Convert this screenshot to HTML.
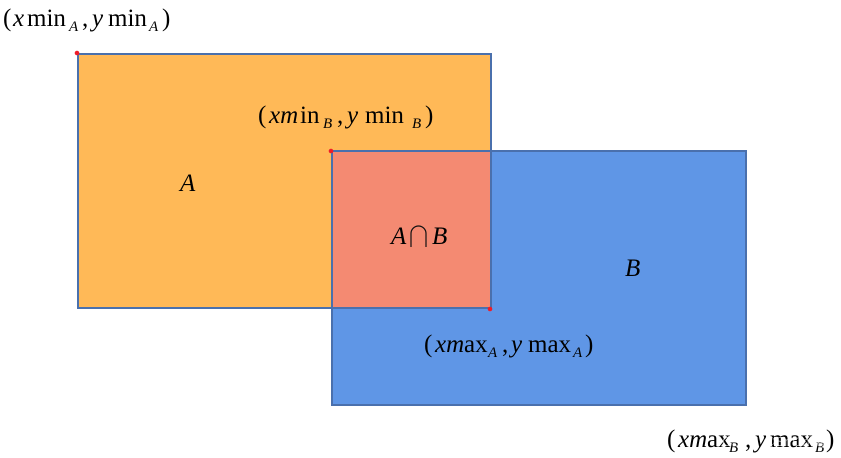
<!DOCTYPE html>
<html><head><meta charset="utf-8"><style>
html,body{margin:0;padding:0;background:#fff;width:841px;height:458px;overflow:hidden}
svg{display:block}
text{font-family:"Liberation Serif",serif;font-size:25px;fill:#000}
.i{font-style:italic}
.s{font-style:italic;font-size:15px}
</style></head><body>
<svg width="841" height="458" viewBox="0 0 841 458" xmlns="http://www.w3.org/2000/svg">
<rect x="78" y="54" width="413" height="254" fill="#ffb957" stroke="#4a70ad" stroke-width="2"/>
<rect x="332" y="151" width="414" height="254" fill="#5f96e6" stroke="#4a70ad" stroke-width="2"/>
<rect x="332" y="151" width="159" height="157" fill="#f48a72" stroke="#4a70ad" stroke-width="2"/>
<circle cx="77" cy="53" r="2.3" fill="#f01c28"/>
<circle cx="331" cy="151" r="2.3" fill="#f01c28"/>
<circle cx="490" cy="309" r="2.3" fill="#f01c28"/>

<text x="3" y="26">(</text><text x="13" y="26" class="i">x</text><text x="27" y="26">min</text><text x="69" y="31" class="s">A</text><text x="82" y="26">,</text><text x="92" y="26" class="i">y</text><text x="108" y="26">min</text><text x="149" y="31" class="s">A</text><text x="162" y="26">)</text>

<text x="258" y="123">(</text><text x="269" y="123" class="i">xm</text><text x="300" y="123">in</text><text x="323" y="128" class="s">B</text><text x="337" y="123">,</text><text x="347" y="123" class="i">y</text><text x="365" y="123">min</text><text x="412" y="128" class="s">B</text><text x="425" y="123">)</text>

<text x="180" y="191" class="i">A</text>
<text x="625" y="276" class="i">B</text>

<text x="391" y="244" class="i">A</text>
<path d="M411 247V233.5a7.5 7.5 0 0 1 15 0V247" fill="none" stroke="#111" stroke-width="1.2"/>
<text x="432" y="244" class="i">B</text>

<text x="424" y="352">(</text><text x="435" y="352" class="i">xm</text><text x="464" y="352">ax</text><text x="488" y="357" class="s">A</text><text x="502" y="352">,</text><text x="511" y="352" class="i">y</text><text x="528" y="352">max</text><text x="573" y="357" class="s">A</text><text x="585" y="352">)</text>

<text x="667" y="447">(</text><text x="678" y="447" class="i">xm</text><text x="707" y="447">ax</text><text x="729" y="452" class="s">B</text><text x="745" y="447">,</text><text x="755" y="447" class="i">y</text><text x="770" y="447">max</text><text x="815" y="452" class="s">B</text><text x="826" y="447">)</text>
<text x="722" y="446" style="font-family:'Liberation Sans',sans-serif;font-size:13px;fill:#fff;fill-opacity:.55">CSDN @Sm1ngly</text>
</svg>
</body></html>
